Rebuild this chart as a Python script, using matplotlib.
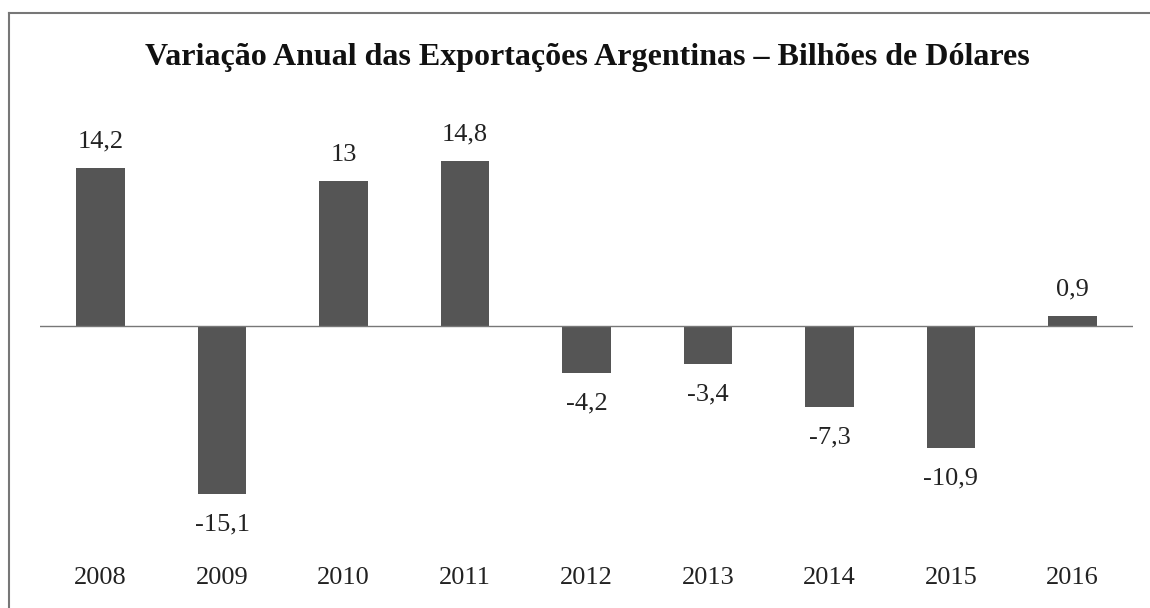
import matplotlib.pyplot as plt
from matplotlib.lines import Line2D

# Dados
anos = ["2008", "2009", "2010", "2011", "2012", "2013", "2014", "2015", "2016"]
variacao = [14.2, -15.1, 13.0, 14.8, -4.2, -3.4, -7.3, -10.9, 0.9]
rotulos = ["14,2", "-15,1", "13", "14,8", "-4,2", "-3,4", "-7,3", "-10,9", "0,9"]

plt.rcParams['font.family'] = ['Liberation Serif', 'DejaVu Serif']

fig = plt.figure(figsize=(11.5, 6.08), dpi=100)
ax = fig.add_axes([40 / 1150, 70 / 608, 1093 / 1150, 396 / 608])

x = list(range(len(anos)))
ax.bar(x, variacao, width=0.4, color='#555555')
ax.axhline(0, color='#777777', linewidth=1)

for xi, v, r in zip(x, variacao, rotulos):
    if v >= 0:
        ax.annotate(r, (xi, v), xytext=(0, 11), textcoords='offset points',
                    ha='center', va='bottom', fontsize=19, color='#222222')
    else:
        ax.annotate(r, (xi, v), xytext=(0, -14), textcoords='offset points',
                    ha='center', va='top', fontsize=19, color='#222222')

ax.set_xlim(-0.5, len(anos) - 0.5)
ax.set_ylim(-19, 16.5)
ax.set_xticks(x)
ax.set_xticklabels(anos, fontsize=19, color='#222222')
ax.tick_params(axis='x', length=0, pad=21)
ax.set_yticks([])
for s in ax.spines.values():
    s.set_visible(False)

fig.text(587 / 1150, 1 - 57 / 608, "Variação Anual das Exportações Argentinas – Bilhões de Dólares",
         ha='center', va='center', fontsize=23, fontweight='bold', color='#111111')

# moldura (topo e esquerda)
fig.add_artist(Line2D([9 / 1150, 1], [1 - 13 / 608, 1 - 13 / 608], color='#777777', linewidth=1.5))
fig.add_artist(Line2D([9 / 1150, 9 / 1150], [0, 1 - 13 / 608], color='#777777', linewidth=1.5))

plt.savefig("out.png", dpi=100)
